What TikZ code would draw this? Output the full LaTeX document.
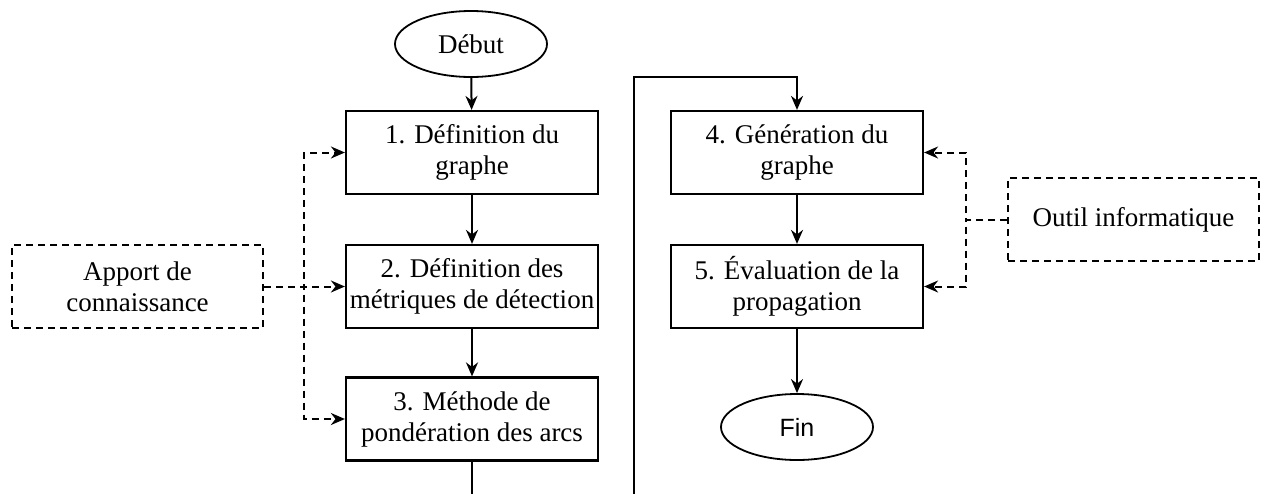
\documentclass[tikz,border=0pt]{standalone}
\usepackage{fontspec}
\setmainfont{Liberation Serif}
\newfontfamily\finfont{Liberation Sans}
\usetikzlibrary{arrows.meta,shapes.geometric}

\tikzset{
  etape/.style={draw, line width=2.2pt, minimum width=252pt, minimum height=83pt,
    align=center, inner sep=0pt},
  terminal/.style={draw, ellipse, line width=1.8pt, minimum width=152pt,
    minimum height=66pt, inner sep=0pt},
  source/.style={draw, line width=2pt, dash pattern=on 7pt off 5pt,
    minimum width=251pt, minimum height=83pt, align=center, inner sep=0pt},
  fleche/.style={-{Stealth[length=14pt,width=12pt]}, line width=2pt},
  pointille/.style={fleche, dash pattern=on 7pt off 5pt}
}

\begin{document}
\begin{tikzpicture}[x=1pt, y=-1pt, font=\fontsize{27}{31}\selectfont]
  \useasboundingbox (0,0) rectangle (1264,493);
  \clip (0,0) rectangle (1264,493);

  % colonne de gauche
  \node[terminal] (debut) at (471,44) {Début};
  \node[etape] (e1) at (472,152.5) {1. Définition du\\graphe};
  \node[etape] (e2) at (472,286.5) {2. Définition des\\métriques de détection};
  \node[etape] (e3) at (472,419) {3. Méthode de\\pondération des arcs};

  % colonne de droite
  \node[etape] (e4) at (797,152.5) {4. Génération du\\graphe};
  \node[etape] (e5) at (797,286.5) {5. Évaluation de la\\propagation};
  \node[terminal] (fin) at (797,427) {\fontsize{25}{29}\finfont Fin};

  % entrees
  \node[source] (apport) at (137.5,286.5) {Apport de\\connaissance};
  \node[source] (outil) at (1133.5,219.5) {Outil informatique};

  \coordinate (coude1) at (634,505);
  \coordinate (coude2) at (634,77);
  \coordinate (gauche) at (304,0);
  \coordinate (droite) at (966,0);

  \draw[fleche] (debut) -- (e1);
  \draw[fleche] (e1) -- (e2);
  \draw[fleche] (e2) -- (e3);
  \draw[fleche] (e3.south) -- (e3.south |- coude1) -- (coude1) -- (coude2)
    -- (coude2 -| e4.north) -- (e4.north);
  \draw[fleche] (e4) -- (e5);
  \draw[fleche] (e5) -- (fin);

  \draw[pointille] (apport.east) -- (e2.west);
  \draw[pointille] (apport.east) -| (gauche |- e1.west) -- (e1.west);
  \draw[pointille] (apport.east) -| (gauche |- e3.west) -- (e3.west);

  \draw[pointille] (outil.west) -| (droite |- e4.east) -- (e4.east);
  \draw[pointille] (outil.west) -| (droite |- e5.east) -- (e5.east);

\end{tikzpicture}
\end{document}
